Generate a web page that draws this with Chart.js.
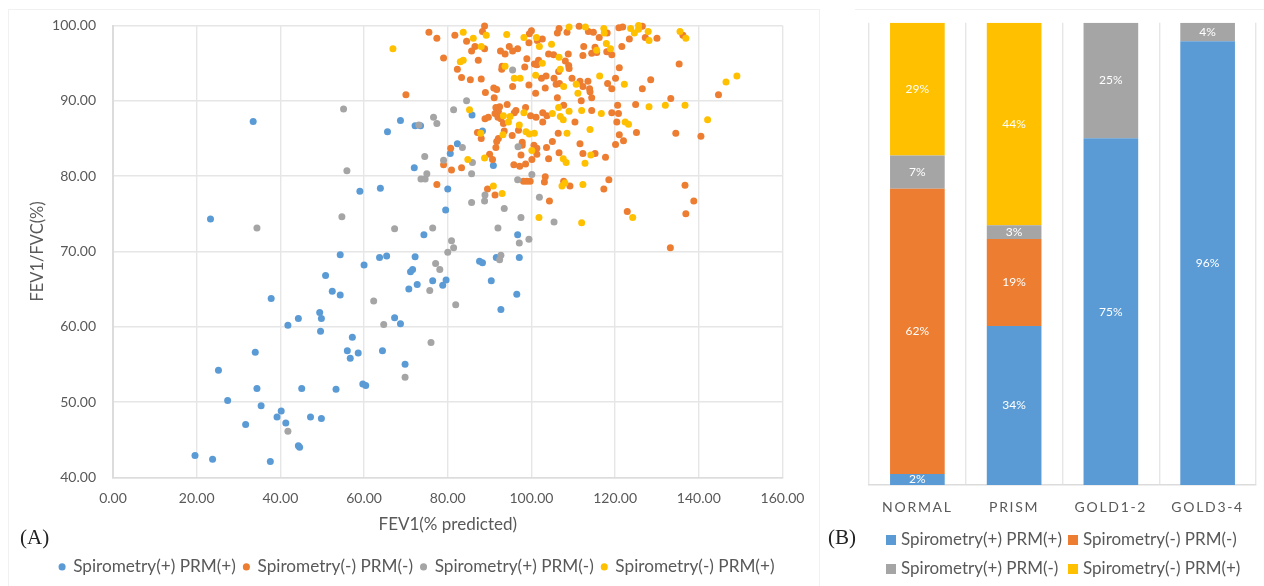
<!DOCTYPE html>
<html>
<head>
<meta charset="utf-8">
<script src="https://cdn.jsdelivr.net/npm/chart.js@4/dist/chart.umd.js"></script>
<style>
    html, body { margin: 0; padding: 0; background: #fff; width: 1264px; height: 586px; overflow: hidden; }
    canvas { position: absolute; top: 0; }
    #scatter { left: 0; }
    #bars { left: 863px; }
    .panel { position: absolute; font: 21px "Liberation Serif", serif; color: #222; top: 525px; }
    .frame { position: absolute; background: #f1f1f1; }
    #barLegend { position: absolute; left: 886px; top: 523.5px; display: grid; grid-template-columns: 182px auto;
        font: 17px/29px Lato, sans-serif; color: #595959; white-space: nowrap; }
    #barLegend i { display: inline-block; width: 10px; height: 10px; margin-right: 5px; }
</style>
</head>
<body>
<div class="frame" style="left:8px;top:9px;width:812px;height:1px"></div>
<div class="frame" style="left:8px;top:9px;width:1px;height:577px"></div>
<div class="frame" style="left:819px;top:9px;width:1px;height:577px"></div>
<div class="frame" style="left:855px;top:9px;width:409px;height:1px"></div>
<canvas id="scatter" width="840" height="586"></canvas>
<canvas id="bars" width="401" height="586"></canvas>
<div id="barLegend"></div>
<div class="panel" style="left:20px">(A)</div>
<div class="panel" style="left:828px">(B)</div>
<script>
const seriesNames = ['Spirometry(+) PRM(+)', 'Spirometry(-) PRM(-)', 'Spirometry(+) PRM(-)', 'Spirometry(-) PRM(+)'];
const seriesColors = ['#5B9BD5', '#ED7D31', '#A5A5A5', '#FFC000'];

// panel A, [FEV1 % predicted, FEV1/FVC %]
const bothPositive = [
    [33.5,87.25],[23.3,74.3],[68.7,87.4],[65.6,85.9],[72.2,86.7],[73.5,86.7],[72.0,81.1],[59.0,78.0],[63.9,78.4],
    [54.3,69.55],[63.7,69.2],[65.4,69.4],[72.2,69.3],[60.0,68.2],[71.1,67.3],[71.6,67.6],[50.8,66.8],[85.8,88.1],
    [88.3,86.0],[82.3,84.3],[80.6,83.0],[90.9,81.4],[80.0,78.3],[79.5,75.5],[74.3,72.2],[96.7,72.2],[87.6,68.7],
    [88.3,68.5],[91.6,69.2],[97.1,69.2],[70.7,65.0],[72.7,65.6],[76.4,66.1],[78.8,65.5],[79.6,66.2],[90.4,66.1],
    [96.5,64.3],[92.7,62.3],[68.7,60.4],[69.8,55.0],[52.4,64.7],[54.3,64.2],[37.8,63.75],[49.4,61.9],[49.8,61.1],
    [44.3,61.1],[41.8,60.2],[49.6,59.4],[67.3,61.2],[57.2,58.6],[34.0,56.6],[56.0,56.8],[58.6,56.5],[56.7,55.8],
    [64.4,56.8],[25.2,54.2],[59.7,52.4],[60.4,52.2],[34.4,51.8],[45.1,51.8],[53.3,51.7],[27.4,50.2],[35.4,49.5],
    [40.2,48.8],[39.2,48.0],[47.2,48.0],[49.8,47.8],[31.7,47.0],[41.3,47.2],[44.3,44.2],[44.6,44.0],[19.6,42.9],
    [23.8,42.4],[37.6,42.1]
];
const bothNegative = [
    [70.0,90.8],[75.5,99.1],[77.4,98.3],[81.7,98.7],[84.5,97.9],[88.8,99.95],[88.3,99.2],[85.7,96.6],[86.5,97.2],
    [88.8,96.9],[79.0,95.7],[87.3,95.4],[82.3,94.2],[83.3,93.1],[85.4,92.8],[88.0,92.9],[89.0,91.1],[91.0,91.7],
    [91.7,91.5],[91.1,90.4],[92.6,96.6],[93.7,96.2],[94.7,97.2],[95.5,96.6],[96.7,96.9],[98.9,95.6],[98.4,94.5],
    [93.0,94.6],[92.9,94.2],[95.5,91.9],[99.4,92.1],[101.0,91.0],[103.3,91.7],[100.0,99.3],[99.5,98.9],[99.4,97.7],
    [102.6,98.2],[101.4,98.0],[106.2,99.0],[106.6,99.6],[108.5,99.1],[111.4,99.9],[113.6,99.2],[114.8,99.1],
    [116.2,98.4],[118.1,99.0],[104.1,96.2],[105.3,96.1],[108.8,96.2],[112.5,97.2],[112.3,96.0],[114.4,96.3],
    [115.6,96.4],[115.2,97.1],[118.0,96.5],[119.2,96.1],[121.6,97.2],[120.9,99.7],[121.8,99.8],[126.5,99.9],
    [123.4,98.2],[127.2,98.4],[130.0,98.3],[136.2,98.7],[135.3,94.9],[121.0,94.4],[120.1,93.0],[128.5,92.8],
    [126.5,91.6],[133.3,90.3],[144.7,90.8],[100.7,94.9],[101.7,95.4],[101.3,94.8],[108.1,95.3],[108.9,94.7],
    [109.0,94.3],[106.5,93.9],[109.7,93.0],[105.4,93.0],[103.5,93.3],[102.4,93.0],[105.9,92.2],[106.7,92.3],
    [111.6,92.6],[113.5,92.6],[112.3,91.9],[113.9,91.6],[114.0,91.2],[118.2,92.3],[119.2,91.6],[106.2,90.4],
    [111.9,90.0],[114.4,90.4],[120.6,89.4],[124.9,89.5],[107.7,89.4],[114.4,88.7],[119.2,88.4],[120.8,88.3],
    [120.4,87.2],[110.4,87.2],[102.7,87.2],[103.7,88.0],[102.7,88.4],[101.1,87.8],[99.8,88.0],[98.6,89.1],
    [96.3,88.7],[95.9,88.4],[94.2,89.5],[92.4,89.2],[91.5,89.1],[92.1,88.6],[91.3,88.3],[92.0,87.8],[89.7,87.8],
    [88.9,87.6],[92.7,87.6],[93.3,87.0],[96.9,86.1],[93.5,86.0],[87.1,85.8],[88.0,85.0],[95.4,85.4],[92.1,85.0],
    [91.7,84.6],[91.5,83.8],[97.8,84.5],[97.8,84.1],[100.6,84.1],[101.3,83.7],[101.3,82.9],[97.5,82.8],[90.0,82.9],
    [90.7,82.2],[100.1,82.2],[95.8,81.5],[97.2,81.3],[98.6,81.6],[103.6,83.8],[105.0,84.6],[106.4,85.7],[111.6,84.3],
    [106.6,83.1],[104.1,82.3],[112.3,83.0],[115.2,83.0],[117.7,82.5],[120.1,84.2],[122.0,84.7],[121.0,85.5],
    [125.1,85.8],[134.5,85.7],[140.5,85.3],[80.7,83.7],[79.0,81.5],[80.9,80.8],[83.3,81.1],[77.4,78.9],[98.1,79.3],
    [98.9,79.3],[99.7,79.3],[103.3,79.9],[103.1,79.2],[107.7,79.3],[109.2,78.7],[118.5,79.5],[117.3,78.3],[136.7,78.8],
    [138.8,76.7],[136.9,75.0],[122.9,75.3],[104.3,76.7],[89.5,78.3],[91.3,77.5],[133.2,70.5]
];
const spiroOnly = [
    [95.5,94.1],[84.5,90.0],[81.4,88.8],[76.6,87.8],[77.4,87.0],[73.1,86.8],[83.5,83.8],[74.5,82.6],[79.0,82.1],
    [85.9,81.8],[85.7,80.3],[75.0,80.3],[73.6,79.6],[74.6,79.6],[96.8,83.9],[100.1,80.2],[96.7,79.5],[101.9,77.2],
    [105.4,73.9],[88.9,77.5],[88.8,76.7],[85.7,76.5],[93.5,75.7],[97.5,74.5],[92.0,73.1],[76.4,73.1],[80.9,71.4],
    [81.4,70.5],[80.0,69.9],[99.4,71.6],[97.1,71.1],[92.7,69.5],[92.4,68.9],[77.1,68.4],[78.1,67.6],[75.7,64.8],
    [81.9,62.9],[76.0,57.9],[69.8,53.3],[62.3,63.4],[64.7,60.3],[41.8,46.1],[55.1,88.9],[55.9,80.7],[54.7,74.6],
    [34.4,73.1],[67.3,73.0]
];
const prmOnly = [
    [83.7,99.1],[86.1,98.3],[89.2,98.7],[94.1,98.8],[98.2,98.4],[101.2,98.4],[101.9,97.2],[104.8,97.5],[109.0,99.8],
    [112.9,99.8],[117.3,99.6],[117.4,99.0],[117.9,97.6],[115.6,96.7],[118.9,96.9],[123.7,99.6],[124.6,99.0],
    [125.6,100],[125.6,99.5],[127.9,99.2],[128.1,98.0],[135.5,99.2],[136.9,98.3],[88.0,97.2],[83.7,95.4],[83.0,95.2],
    [102.6,95.0],[106.6,95.8],[106.9,94.2],[93.7,94.6],[95.9,93.0],[97.3,93.0],[101.0,93.4],[107.7,91.9],[110.7,92.2],
    [116.3,93.3],[122.2,92.2],[111.1,91.0],[146.5,92.5],[149.1,93.3],[128.1,89.2],[132.0,89.4],[136.7,89.4],[142.1,87.5],
    [85.2,88.8],[106.5,89.1],[109.0,88.6],[112.0,88.7],[116.7,88.3],[105.0,88.3],[98.2,88.4],[93.3,88.0],[94.9,87.9],
    [94.5,87.2],[106.9,87.9],[107.6,87.5],[97.1,86.8],[122.4,87.2],[123.2,86.9],[98.7,85.9],[99.5,85.6],[100.7,85.7],
    [108.5,85.7],[114.0,86.2],[87.9,85.7],[93.2,85.5],[100.1,83.4],[84.8,82.2],[88.8,82.4],[107.6,82.3],[108.3,81.8],
    [114.2,82.8],[112.8,81.7],[90.9,78.7],[93.0,77.7],[108.0,79.1],[107.3,78.7],[112.3,78.9],[101.8,74.5],[112.0,73.8],
    [124.2,74.5],[66.9,96.9]
];

// panel B, percent of each group
const groups = ['NORMAL', 'PRISM', 'GOLD1-2', 'GOLD3-4'];
const sharePosPos = [2.4, 34.4, 75.0, 96.0];
const shareNegNeg = [61.7, 18.8, 0, 0];
const sharePosNeg = [7.2, 3.0, 25.0, 4.0];
const shareNegPos = [28.7, 43.8, 0, 0];

const textColor = '#595959';
const gridColor = '#e6e6e6';
const axisColor = '#dcdcdc';
Chart.defaults.font.family = 'Lato, sans-serif';
Chart.defaults.color = textColor;
Chart.defaults.animation = false;
Chart.defaults.responsive = false;
Chart.defaults.plugins.tooltip.enabled = false;

// chart height minus plot bottom minus legend leaves the x scale height
function pinBottom(plotBottom, padBottom) {
    return function (scale) {
        const legend = scale.chart.legend;
        scale.height = 586 - plotBottom - padBottom - (legend ? legend.height : 0);
    };
}

const scatterSeries = [bothPositive, bothNegative, spiroOnly, prmOnly];
new Chart(document.getElementById('scatter'), {
    type: 'scatter',
    data: {
        datasets: scatterSeries.map((pts, i) => ({
            label: seriesNames[i],
            data: pts.map(p => ({x: p[0], y: p[1]})),
            backgroundColor: seriesColors[i],
            borderColor: seriesColors[i],
            pointRadius: 3.5,
            borderWidth: 0,
            clip: false,
            order: 4 - i
        }))
    },
    options: {
        layout: {padding: {left: 20, right: 57.5, top: 25.5, bottom: 0.5}},
        scales: {
            x: {
                min: 0, max: 160,
                ticks: {stepSize: 20, padding: 13, font: {size: 14}, callback: v => v.toFixed(2), maxRotation: 0},
                grid: {color: gridColor, lineWidth: 1.4, drawTicks: false},
                border: {color: axisColor, width: 1.6},
                title: {display: true, text: 'FEV1(% predicted)', font: {size: 17}, padding: {top: 4, bottom: 16}},
                afterFit: pinBottom(477.3, 0.5)
            },
            y: {
                min: 40, max: 100,
                ticks: {stepSize: 10, padding: 17, font: {size: 14}, callback: v => v.toFixed(2)},
                grid: {color: gridColor, lineWidth: 1.4, drawTicks: false},
                border: {color: axisColor, width: 2},
                title: {display: true, text: 'FEV1/FVC(%)', font: {size: 16.5}, padding: {top: 8, bottom: 0}},
                afterFit: s => { s.width = 93; }
            }
        },
        plugins: {
            legend: {
                position: 'bottom',
                align: 'end',
                labels: {
                    usePointStyle: true, boxWidth: 5, boxHeight: 5, padding: 8,
                    font: {size: 17.2}, color: textColor,
                    sort: (a, b) => a.datasetIndex - b.datasetIndex
                }
            }
        }
    }
});

const barValueLabels = {
    id: 'barValueLabels',
    afterDatasetsDraw(chart) {
        const {ctx} = chart;
        ctx.save();
        ctx.fillStyle = '#fff';
        ctx.font = '12px Lato, sans-serif';
        ctx.textAlign = 'center';
        ctx.textBaseline = 'middle';
        chart.data.datasets.forEach((ds, i) => {
            chart.getDatasetMeta(i).data.forEach((bar, j) => {
                if (!ds.data[j]) return;
                const mid = bar.getCenterPoint();
                ctx.fillText(Math.round(ds.data[j]) + '%', mid.x, mid.y);
            });
        });
        ctx.restore();
    }
};

const shares = [sharePosPos, shareNegNeg, sharePosNeg, shareNegPos];
const barChart = new Chart(document.getElementById('bars'), {
    type: 'bar',
    data: {
        labels: groups,
        datasets: shares.map((vals, i) => ({
            label: seriesNames[i],
            data: vals,
            backgroundColor: seriesColors[i],
            barPercentage: 0.565,
            categoryPercentage: 1
        }))
    },
    options: {
        layout: {padding: {left: 6, right: 8, top: 22.7, bottom: 0}},
        scales: {
            x: {
                stacked: true,
                ticks: {padding: 14, font: {size: 14}, maxRotation: 0},
                grid: {color: gridColor, lineWidth: 1.4, drawTicks: false},
                border: {color: axisColor, width: 1.4},
                afterFit: pinBottom(485, 0)
            },
            y: {
                stacked: true, min: 0, max: 100, display: false
            }
        },
        plugins: {
            legend: {display: false}
        }
    },
    plugins: [barValueLabels]
});

// group names are spaced out in the original
const xScale = barChart.scales.x;
const drawLabels = xScale.drawLabels;
xScale.drawLabels = function (area) {
    this.ctx.save();
    this.ctx.letterSpacing = '1.7px';
    drawLabels.call(this, area);
    this.ctx.restore();
};
barChart.draw();

// two aligned rows with this spacing are out of reach of the canvas legend
const legendBox = document.getElementById('barLegend');
Chart.defaults.plugins.legend.labels.generateLabels(barChart).forEach(item => {
    const row = document.createElement('div');
    const box = document.createElement('i');
    box.style.background = item.fillStyle;
    row.appendChild(box);
    row.appendChild(document.createTextNode(item.text));
    legendBox.appendChild(row);
});
</script>
</body>
</html>
